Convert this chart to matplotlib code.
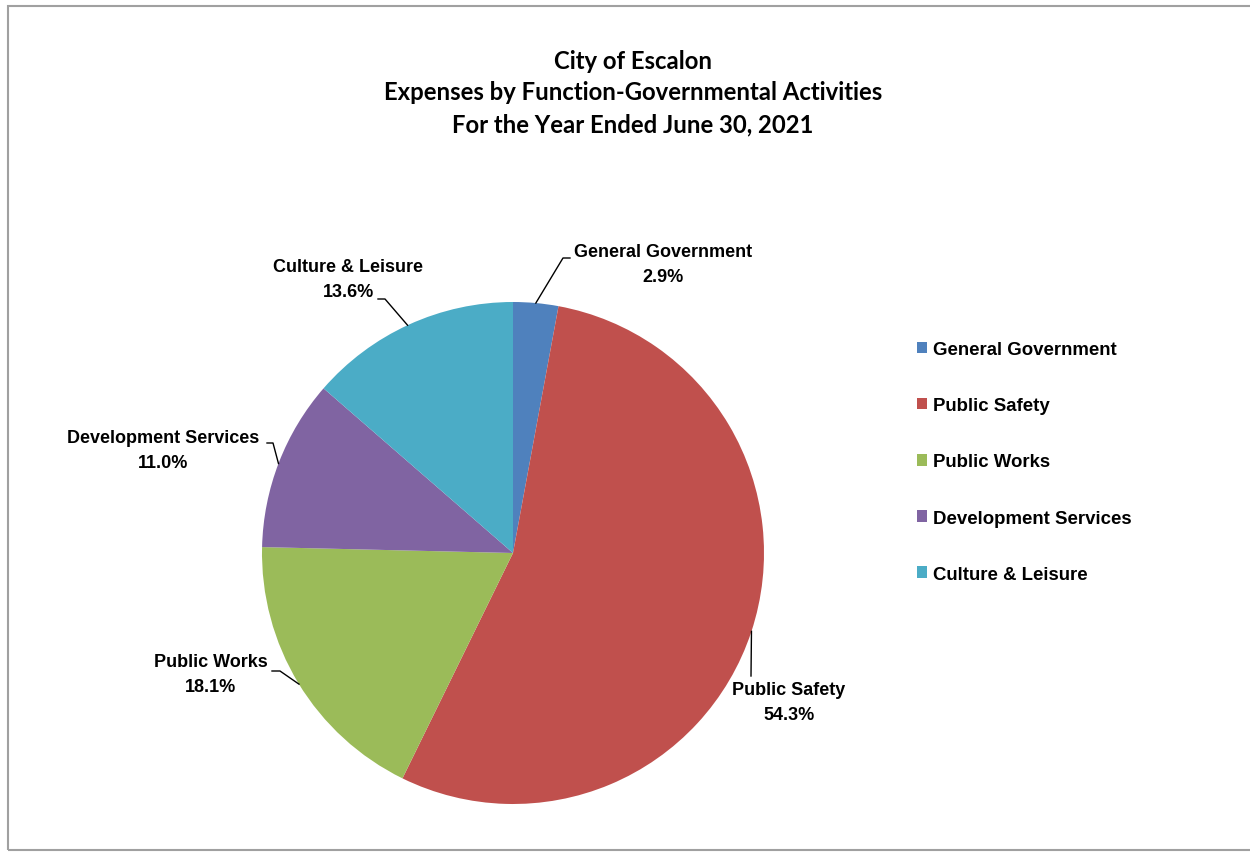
import numpy as np
import matplotlib
matplotlib.use("Agg")
import matplotlib.pyplot as plt
from matplotlib.patches import Rectangle

# Data
categories = ["General Government", "Public Safety", "Public Works",
              "Development Services", "Culture & Leisure"]
shares = [2.9, 54.3, 18.1, 11.0, 13.6]
colors = ["#4F81BD", "#C0504D", "#9BBB59", "#8064A2", "#4BACC6"]

title_lines = ["City of Escalon",
               "Expenses by Function-Governmental Activities",
               "For the Year Ended June 30, 2021"]

W, H = 1250, 853
cx, cy, r = 513, 554, 251  # pie centre / radius in pixels


def px2d(x, y):
    # pixel position -> pie data coordinates
    return (x - cx) / r, (cy - y) / r


# label centre and leader elbow/end points (pixels)
label_pos = [(663, 265), (789, 703), (211, 675), (163, 451), (348, 280)]
leader_pts = [
    [(563, 259), (570, 259)],
    [(751, 677)],
    [(280, 672), (272, 672)],
    [(273, 444), (267, 444)],
    [(385, 300), (378, 300)],
]

fig = plt.figure(figsize=(W / 100, H / 100), dpi=100)
fig.patch.set_facecolor("white")

# outer chart border
fig.add_artist(Rectangle((8 / W, 1 - 851 / H), 1.2, (851 - 7) / H,
                         transform=fig.transFigure, fill=False,
                         edgecolor="#A0A0A0", linewidth=1.5))

ax = fig.add_axes([(cx - r) / W, (H - cy - r) / H, 2 * r / W, 2 * r / H])
wedges, _ = ax.pie(shares, colors=colors, startangle=90, counterclock=False,
                   radius=1, wedgeprops=dict(linewidth=0))
ax.set_xlim(-1, 1)
ax.set_ylim(-1, 1)
ax.set_aspect("equal")

label_font = dict(family=["Liberation Sans Narrow", "Liberation Sans"],
                  weight="bold", size=13)

start = 90.0
for i, (name, val) in enumerate(zip(categories, shares)):
    ang = np.deg2rad(start - (val / 2) / 100 * 360)
    start -= val / 100 * 360
    edge = (np.cos(ang), np.sin(ang))
    pts = [edge] + [px2d(*p) for p in leader_pts[i]]
    xs, ys = zip(*pts)
    ax.plot(xs, ys, color="black", linewidth=1, clip_on=False)
    lx, ly = px2d(*label_pos[i])
    ax.text(lx, ly, f"{name}\n{val:.1f}%", ha="center", va="center",
            linespacing=1.6, clip_on=False, **label_font)

# title
fig.text(633 / W, 1 - 93 / H, "\n".join(title_lines), ha="center", va="center",
         family=["Lato", "DejaVu Sans"], weight="bold", size=17.2,
         linespacing=1.45)

# legend
leg = fig.legend(wedges, categories, loc="center left",
                 bbox_to_anchor=(900 / W, 1 - 463 / H), frameon=False,
                 handlelength=0.55, handleheight=0.55, handletextpad=0.3,
                 labelspacing=2.1,
                 prop=dict(family=["Liberation Sans", "DejaVu Sans"],
                           weight="bold", size=13.4))

fig.savefig("out.png", dpi=100)
